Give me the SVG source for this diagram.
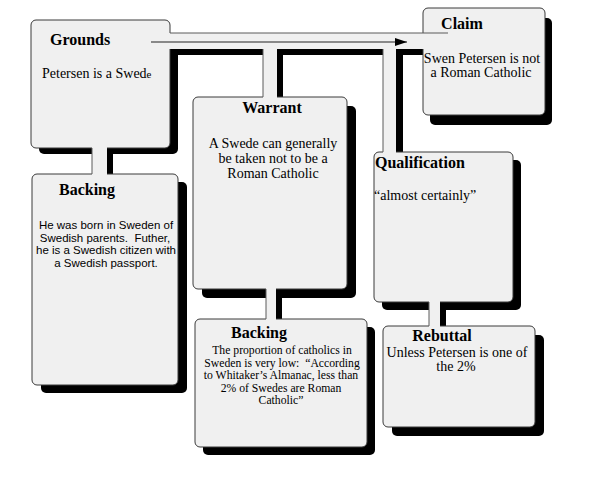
<svg xmlns="http://www.w3.org/2000/svg" width="595" height="480" viewBox="0 0 595 480">
<style>
.sh{fill:#000}
.box{fill:#f0f0f0;stroke:#3a3a3a;stroke-width:1}
.band{fill:#f0f0f0;stroke:none}
.edge{stroke:#5a5a5a;stroke-width:1;fill:none}
.hd{font-family:"Liberation Serif","Times New Roman",serif;font-weight:bold;font-size:16px;fill:#000}
.tx{font-family:"Liberation Serif","Times New Roman",serif;font-size:14px;fill:#000}
.sm{font-family:"Liberation Serif","Times New Roman",serif;font-size:11.7px;fill:#000}
.sans{font-family:"Liberation Sans",Arial,sans-serif;font-size:11.5px;fill:#000}
.mid{text-anchor:middle}
</style>
<defs>
<marker id="arr" markerWidth="12" markerHeight="8" refX="12" refY="4" orient="auto" markerUnits="userSpaceOnUse">
<path d="M0,0 L12,4 L0,8 Z" fill="#000"/>
</marker>
</defs>
<rect width="595" height="480" fill="#fff"/>
<g id="shadows">
<rect class="sh" x="39" y="33" width="139" height="121" rx="5"/>
<rect class="sh" x="41" y="182" width="146" height="211" rx="5"/>
<rect class="sh" x="430" y="18" width="122" height="107" rx="5"/>
<rect class="sh" x="202" y="106" width="154" height="192" rx="5"/>
<rect class="sh" x="382" y="160" width="139" height="150" rx="5"/>
<rect class="sh" x="203" y="327" width="172" height="128" rx="5"/>
<rect class="sh" x="392" y="335" width="152" height="101" rx="5"/>
<rect class="sh" x="175" y="39" width="250" height="16"/>
<rect class="sh" x="269" y="55" width="14" height="48"/>
<rect class="sh" x="389" y="55" width="14" height="100"/>
<rect class="sh" x="98" y="154" width="15" height="24"/>
<rect class="sh" x="272" y="294" width="10" height="30"/>
<rect class="sh" x="435" y="307" width="11" height="24"/>
</g>
<g id="grounds">
<rect class="box" x="31" y="20" width="139" height="128" rx="5"/>
<text class="hd" x="50" y="45">Grounds</text>
<text class="tx" x="42" y="78" font-size="13.5">Petersen is a Swed<tspan font-size="11">e</tspan></text>
</g>
<g id="backing1">
<rect class="box" x="32" y="174" width="146" height="211" rx="5"/>
<text class="hd mid" x="87" y="195">Backing</text>
<text class="sans mid" x="106" y="229">He was born in Sweden of</text>
<text class="sans mid" x="105" y="241.7">Swedish parents.&#160; Futher,</text>
<text class="sans mid" x="106" y="254.3">he is a Swedish citizen with</text>
<text class="sans mid" x="106" y="267">a Swedish passport.</text>
</g>
<g id="claim">
<rect class="box" x="423" y="8" width="122" height="107" rx="5"/>
<text class="hd mid" x="462" y="29">Claim</text>
<text class="tx mid" x="482" y="63">Swen Petersen is not</text>
<text class="tx mid" x="481" y="77">a Roman Catholic</text>
</g>
<g id="warrant">
<rect class="box" x="193" y="97" width="154" height="192" rx="5"/>
<text class="hd mid" x="272" y="113">Warrant</text>
<text class="tx mid" x="273" y="148">A Swede can generally</text>
<text class="tx mid" x="273" y="163">be taken not to be a</text>
<text class="tx mid" x="273" y="178">Roman Catholic</text>
</g>
<g id="qualification">
<rect class="box" x="374" y="152" width="139" height="150" rx="5"/>
<text class="hd" x="375" y="168" font-size="15">Qualification</text>
<text class="tx" x="374" y="200">“almost certainly”</text>
</g>
<g id="backing2">
<rect class="box" x="195" y="319" width="172" height="128" rx="5"/>
<text class="hd mid" x="259" y="338" font-size="15">Backing</text>
<text class="sm mid" x="282" y="354">The proportion of catholics in</text>
<text class="sm mid" x="282" y="366.5">Sweden is very low:&#160; “According</text>
<text class="sm mid" x="281" y="379">to Whitaker’s Almanac, less than</text>
<text class="sm mid" x="281" y="391.5">2% of Swedes are Roman</text>
<text class="sm mid" x="281" y="404">Catholic”</text>
</g>
<g id="rebuttal">
<rect class="box" x="383" y="326" width="152" height="101" rx="5"/>
<text class="hd mid" x="442" y="341">Rebuttal</text>
<text class="tx mid" x="457" y="357" font-size="13">Unless Petersen is one of</text>
<text class="tx mid" x="456" y="371" font-size="13">the 2%</text>
</g>
<g id="connectors">
<rect class="band" x="168" y="33" width="256" height="16"/>
<rect class="band" x="263" y="48" width="14" height="50"/>
<rect class="band" x="383" y="48" width="13" height="105"/>
<rect class="band" x="92" y="146" width="15" height="29"/>
<rect class="band" x="266" y="288" width="10" height="32"/>
<rect class="band" x="429" y="301" width="11" height="26"/>
<path class="edge" d="M170,33 H448"/>
<path class="edge" d="M263,49 V97"/>
<path class="edge" d="M383,49 V152"/>
<path class="edge" d="M92,148 V174"/>
<path class="edge" d="M266,289 V319"/>
<path class="edge" d="M429,302 V326"/>
<line x1="151" y1="42" x2="407" y2="42" stroke="#222" stroke-width="1.2" marker-end="url(#arr)"/>
</g>
</svg>
